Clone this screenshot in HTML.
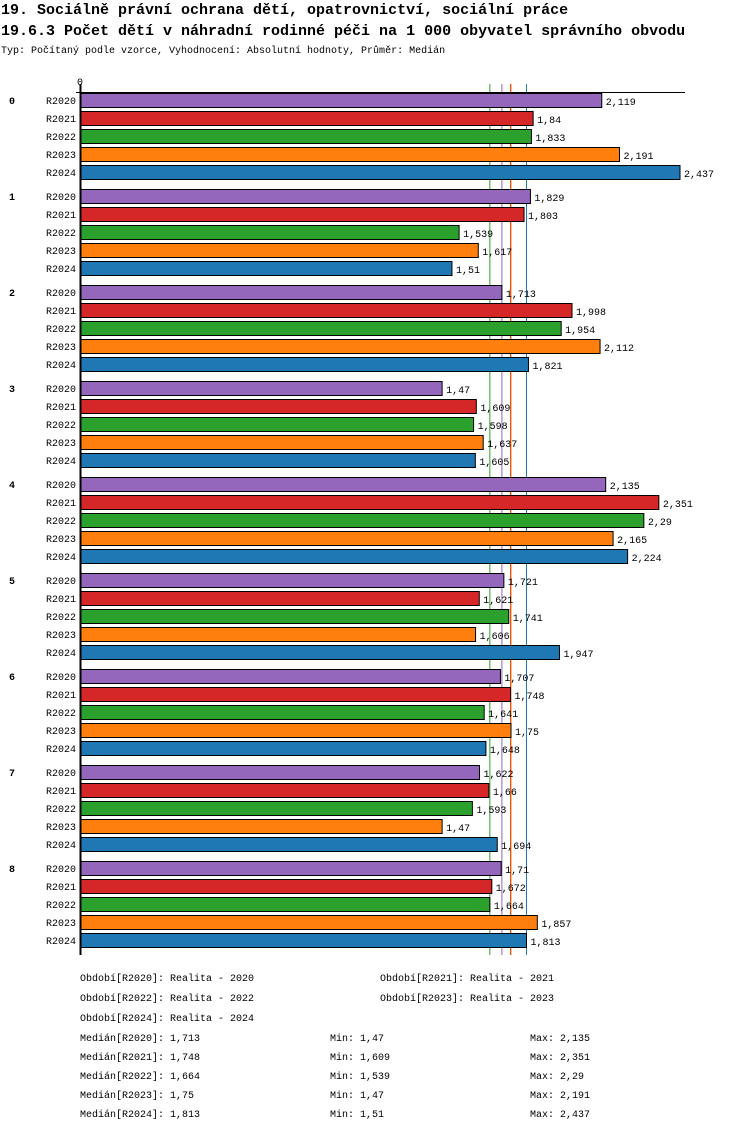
<!DOCTYPE html>
<html><head><meta charset="utf-8"><style>
body{margin:0;background:#fff;width:750px;height:1136px;overflow:hidden;font-family:"Liberation Mono",monospace;}
svg text{font-family:"Liberation Mono","DejaVu Sans Mono",monospace;}
</style></head><body>
<svg id="c" width="750" height="1136" xmlns="http://www.w3.org/2000/svg">
<text x="1" y="14" font-size="15" font-weight="bold">19. Sociálně právní ochrana dětí, opatrovnictví, sociální práce</text>
<text x="1" y="35" font-size="15" font-weight="bold">19.6.3 Počet dětí v náhradní rodinné péči na 1 000 obyvatel správního obvodu</text>
<text x="1" y="53" font-size="10">Typ: Počítaný podle vzorce, Vyhodnocení: Absolutní hodnoty, Průměr: Medián</text>
<g id="medians"></g>
<g id="bars"></g>
<g id="legend"></g>
</svg>
<script>
const groups=['0','1','2','3','4','5','6','7','8'];
const series=['R2020','R2021','R2022','R2023','R2024'];
const colors=['#9467bd','#d62728','#2ca02c','#ff7f0e','#1f77b4'];
const v2020=[2.119,1.829,1.713,1.47,2.135,1.721,1.707,1.622,1.71];
const v2021=[1.84,1.803,1.998,1.609,2.351,1.621,1.748,1.66,1.672];
const v2022=[1.833,1.539,1.954,1.598,2.29,1.741,1.641,1.593,1.664];
const v2023=[2.191,1.617,2.112,1.637,2.165,1.606,1.75,1.47,1.857];
const v2024=[2.437,1.51,1.821,1.605,2.224,1.947,1.648,1.694,1.813];
const medians=[1.713,1.748,1.664,1.75,1.813];
const mins=[1.47,1.609,1.539,1.47,1.51];
const maxs=[2.135,2.351,2.29,2.191,2.437];
const periods=['Realita - 2020','Realita - 2021','Realita - 2022','Realita - 2023','Realita - 2024'];
const vals=[v2020,v2021,v2022,v2023,v2024];
const NS='http://www.w3.org/2000/svg';
const x=v=>80.5+v*246;
const y=(g,s)=>93+g*96+s*18;
const fmt=v=>String(v).replace('.',',');
function mk(tag,attrs,parent,text){const e=document.createElementNS(NS,tag);for(const k in attrs)e.setAttribute(k,attrs[k]);if(text!==undefined)e.textContent=text;parent.appendChild(e);return e;}
const svg=document.getElementById('c');
const mg=document.getElementById('medians'),bg=document.getElementById('bars'),lg=document.getElementById('legend');
medians.forEach((m,i)=>{const l=mk('line',{x1:x(m),x2:x(m),y1:84,y2:955,stroke:colors[i],'stroke-width':1},mg);

});
const t0=mk('text',{x:77,y:85,'font-size':10},svg,'0');


const ax=mk('line',{x1:76,x2:685,y1:92.5,y2:92.5,stroke:'#000','stroke-width':1},svg);


const ay=mk('line',{x1:80.5,x2:80.5,y1:84,y2:955,stroke:'#000','stroke-width':2},svg);


groups.forEach((g,gi)=>{
 const gl=mk('text',{x:9,y:y(gi,0)+11,'font-size':10,'font-weight':'bold'},bg,g);
 
 
 series.forEach((s,si)=>{
  const v=vals[si][gi];const top=y(gi,si);
  const sl=mk('text',{x:76,y:top+11,'font-size':10,'text-anchor':'end'},bg,s);
  
  
  const r=mk('rect',{x:81,y:top+0.5,width:x(v)-81,height:14,fill:colors[si],stroke:'#000','stroke-width':1},bg);
  
  
  const vl=mk('text',{x:x(v)+4,y:top+12,'font-size':10},bg,fmt(v));
  
  
 });
});
series.forEach((s,i)=>{const col=i%2,row=Math.floor(i/2);
 const t=mk('text',{x:80+col*300,y:981+row*20,'font-size':10},lg,'Období['+s+']: '+periods[i]);
 
 });
series.forEach((s,i)=>{const yy=1041+i*19;
 const a=mk('text',{x:80,y:yy,'font-size':10},lg,'Medián['+s+']: '+fmt(medians[i]));
 
 
 const b=mk('text',{x:330,y:yy,'font-size':10},lg,'Min: '+fmt(mins[i]));
 
 
 const c=mk('text',{x:530,y:yy,'font-size':10},lg,'Max: '+fmt(maxs[i]));
 
 });
</script>
</body></html>
